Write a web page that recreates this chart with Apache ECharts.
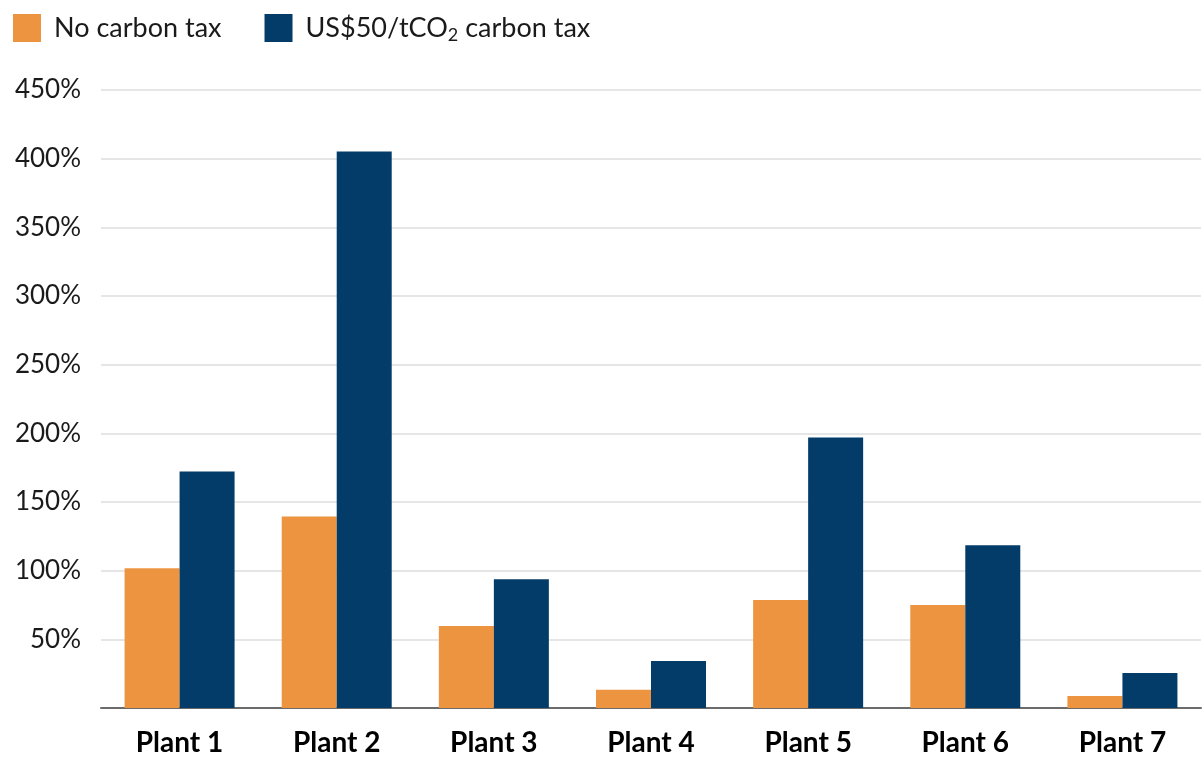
<!DOCTYPE html>
<html>
<head>
<meta charset="utf-8">
<style>
  html, body { margin: 0; padding: 0; background: #ffffff; }
  #chart { width: 1204px; height: 757px; }
</style>
<script src="https://cdn.jsdelivr.net/npm/echarts@6/dist/echarts.min.js"></script>
</head>
<body>
<div id="chart"></div>
<script>
// Plants compared
const categories = ['Plant 1', 'Plant 2', 'Plant 3', 'Plant 4', 'Plant 5', 'Plant 6', 'Plant 7'];
// Values in percent
const noTax = [101.7, 139.5, 59.7, 13.2, 78.6, 75.0, 8.8];
const withTax = [172.2, 405.3, 93.8, 34.3, 196.9, 118.5, 25.5];
// Y axis ticks
const yTicks = [0, 50, 100, 150, 200, 250, 300, 350, 400, 450];

const seriesNames = ['No carbon tax', 'US$50/tCO2 carbon tax'];
const FONT = 'Lato';

const chart = echarts.init(document.getElementById('chart'), null, { renderer: 'canvas' });

chart.setOption({
  animation: false,
  backgroundColor: '#ffffff',
  textStyle: { fontFamily: FONT },
  legend: {
    left: 13,
    top: 14,
    padding: 0,
    itemWidth: 28,
    itemHeight: 28,
    itemGap: 43,
    icon: 'rect',
    data: seriesNames,
    formatter: function (name) {
      if (name === seriesNames[1]) return 'US$50/tCO{sub|2} carbon tax';
      return name;
    },
    textStyle: {
      fontFamily: FONT,
      fontSize: 27,
      color: '#1a1a1a',
      padding: [0, 0, 0, 8],
      rich: {
        sub: { fontFamily: FONT, fontSize: 18, color: '#1a1a1a', padding: [14, 0, 0, 0] }
      }
    }
  },
  grid: {
    left: 101,
    right: 3,
    top: 90,
    bottom: 48
  },
  xAxis: {
    type: 'category',
    data: categories,
    axisTick: { show: false },
    axisLine: { show: true, lineStyle: { color: '#6b6b6b', width: 2 } },
    axisLabel: {
      fontFamily: FONT,
      fontSize: 28,
      fontWeight: 'bold',
      color: '#000000',
      margin: 21
    }
  },
  yAxis: {
    type: 'value',
    min: yTicks[0],
    max: yTicks[yTicks.length - 1],
    interval: yTicks[1] - yTicks[0],
    axisLine: { show: false },
    axisTick: { show: false },
    splitLine: { lineStyle: { color: '#e6e6e6', width: 2 } },
    axisLabel: {
      fontFamily: FONT,
      fontSize: 26,
      color: '#1a1a1a',
      margin: 20,
      formatter: function (v) { return v === 0 ? '' : v + '%'; }
    }
  },
  series: [
    {
      name: seriesNames[0],
      type: 'bar',
      data: noTax,
      itemStyle: { color: '#EC9440' },
      barGap: '0%',
      barCategoryGap: '30%'
    },
    {
      name: seriesNames[1],
      type: 'bar',
      data: withTax,
      itemStyle: { color: '#033C69' },
      barGap: '0%',
      barCategoryGap: '30%'
    }
  ]
});
</script>
</body>
</html>
